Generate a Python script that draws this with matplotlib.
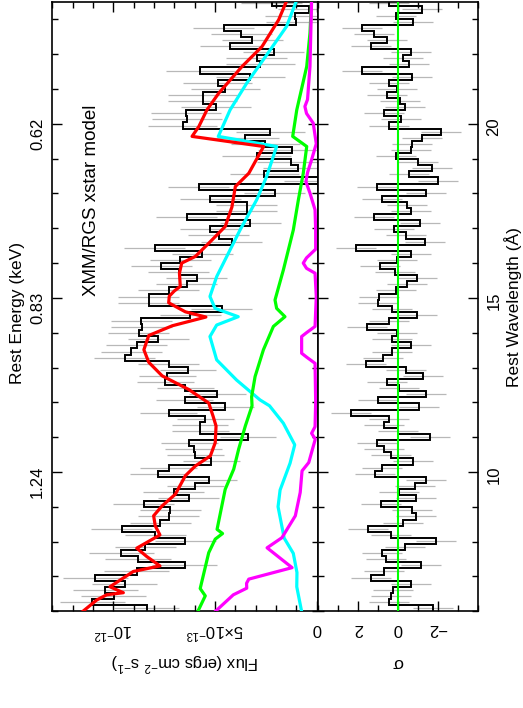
import numpy as np
import matplotlib
matplotlib.use("Agg")
import matplotlib.pyplot as plt
from matplotlib.ticker import MultipleLocator, FixedLocator

plt.rcParams['font.family'] = ['Liberation Sans', 'DejaVu Sans']
plt.rcParams['mathtext.fontset'] = 'custom'
plt.rcParams['mathtext.rm'] = 'Liberation Sans'
plt.rcParams['mathtext.it'] = 'Liberation Sans:italic'
plt.rcParams['mathtext.bf'] = 'Liberation Sans:bold'

# wavelength binning of the RGS spectrum (Angstrom)
wl_lo, wl_hi, n_bins = 6.0, 23.55, 100

# observed flux per bin, units of 1e-12 erg cm-2 s-1, from short to long wavelength
flux = [0.835, 1.105, 0.999, 1.040, 0.944, 1.089, 0.884, 0.649, 0.879, 0.961,
        0.843, 0.646, 0.794, 0.958, 0.769, 0.728, 0.720, 0.851, 0.630, 0.704,
        0.597, 0.531, 0.780, 0.728, 0.518, 0.597, 0.605, 0.627, 0.338, 0.573,
        0.574, 0.548, 0.728, 0.450,
        0.649, 0.490, 0.646, 0.744, 0.736, 0.633, 0.728, 0.944, 0.911, 0.884,
        0.780, 0.876, 0.860, 0.863, 0.622, 0.466, 0.826, 0.826, 0.728, 0.638,
        0.589, 0.679, 0.764, 0.671, 0.564, 0.797, 0.417, 0.482, 0.523, 0.326,
        0.638, 0.343, 0.343,
        0.523, 0.207, 0.580, -0.010, 0.258, 0.092, 0.125, 0.294, 0.121, 0.253,
        0.354, 0.228, 0.659, 0.638, 0.643, 0.495, 0.561, 0.561, 0.450, 0.486,
        0.327, 0.573, 0.277, 0.294, 0.212, 0.425, 0.318, 0.371, 0.457, 0.100,
        0.105, 0.039, 0.220]

# 1-sigma flux errors, one value per block of 10 bins
flux_err_blocks = [0.16, 0.15, 0.14, 0.14, 0.15, 0.15, 0.15, 0.17, 0.17, 0.15]

# residuals (sigma)
resid = [-1.75, 0.45, 0.37, 0.26, -0.66, 1.37, 0.70, -1.17, 0.58, 0.78,
         -0.33, -1.92, 0.37, 1.48, -0.25, -0.92, -0.72, 0.85, -0.90, -0.05,
         -0.84, -1.39, 1.15, 0.82, -0.75, 0.37, 0.72, 1.07, -1.58, 0.0,
         0.70, 0.43, 2.37, -1.05,
         0.99, -1.39, -0.05, 0.53, -1.25, -0.39, 1.62, 0.73, 0.32, -0.66,
         0.32, 0.03, 1.53, 0.43, -0.97, 0.28, 1.00, 0.95, 0.08, -0.47,
         -0.97, 0.15, 0.90, 0.03, -0.63, 2.12, -1.33, -0.39, 0.20, -1.09,
         1.18, -0.66, -0.47,
         0.78, -1.39, 1.03, -2.02, -0.55, -1.69, -1.02, 0.12, -0.63, -0.68,
         -1.19, -2.14, 0.45, -0.17, 0.70, -0.35, -0.09, 0.57, 0.03, 0.45,
         -0.72, 1.82, -0.55, -0.25, -0.66, 1.35, 0.57, 1.20, 1.78, -0.75,
         0.12, -1.19, 0.43]

# model curves: (wavelength, flux) samples
red_wl = [5.99, 6.32, 6.47, 6.53, 6.70, 7.14, 7.30, 7.57, 7.81, 8.00, 8.19, 8.45,
          8.74, 9.02, 9.36, 9.89, 10.17, 10.46, 10.84, 11.32, 11.59, 11.98, 12.37,
          12.76, 13.15, 13.51, 13.92, 14.20, 14.45, 14.60, 14.86, 15.05, 15.20,
          15.33, 15.71, 16.00, 16.19, 16.57, 17.05, 17.61, 18.20, 18.58, 19.35,
          19.64, 19.92, 20.40, 20.88, 21.65, 22.22, 22.99, 23.56]
red_f = [1.151, 1.082, 1.033, 0.951, 1.017, 0.902, 0.771, 0.836, 0.885, 0.828, 0.771,
         0.794, 0.802, 0.761, 0.695, 0.646, 0.597, 0.523, 0.499, 0.495, 0.509, 0.531,
         0.630, 0.760, 0.826, 0.850, 0.826, 0.710, 0.545, 0.646, 0.728, 0.725, 0.700,
         0.671, 0.675, 0.664, 0.597, 0.531, 0.450, 0.417, 0.400, 0.334, 0.261, 0.613,
         0.580, 0.540, 0.482, 0.367, 0.269, 0.187, 0.146]

cyan_wl = [5.99, 6.70, 7.11, 7.66, 8.10, 9.00, 9.48, 10.25, 10.78, 11.40, 11.90,
           12.07, 12.64, 13.22, 13.89, 14.22, 14.46, 14.70, 15.04, 15.61, 16.38,
           16.95, 17.82, 18.49, 19.35, 19.64, 20.40, 21.17, 21.98, 22.80, 23.56]
cyan_f = [0.074, 0.098, 0.097, 0.115, 0.160, 0.190, 0.180, 0.131, 0.108, 0.164, 0.232,
          0.279, 0.394, 0.492, 0.525, 0.492, 0.386, 0.500, 0.525, 0.492, 0.426,
          0.377, 0.295, 0.246, 0.197, 0.484, 0.426, 0.344, 0.246, 0.148, 0.098]

green_wl = [6.00, 6.44, 6.65, 7.68, 8.07, 8.23, 8.35, 9.50, 10.08, 10.65, 11.32,
            11.90, 12.16, 12.74, 13.51, 14.18, 14.46, 14.70, 14.94, 15.80, 16.95,
            17.82, 18.58, 19.35, 19.64, 20.40, 21.65, 22.61, 23.56]
green_f = [0.584, 0.548, 0.573, 0.531, 0.499, 0.463, 0.490, 0.450, 0.408, 0.384, 0.351,
           0.318, 0.320, 0.303, 0.262, 0.213, 0.156, 0.197, 0.205, 0.164, 0.115,
           0.090, 0.066, 0.049, 0.118, 0.098, 0.049, 0.033, 0.025]

mag_wl = [5.99, 6.47, 6.66, 6.80, 6.92, 7.25, 7.82, 8.11, 8.74, 9.41, 10.03, 10.27,
          10.94, 11.11, 11.30, 12.00, 13.12, 13.30, 13.41, 13.89, 14.00, 14.18, 15.04,
          15.71, 15.85, 16.00, 16.15, 16.40, 16.95, 17.53, 18.01, 18.34, 18.60,
          18.97, 19.43, 20.02, 20.30, 20.50, 20.70, 21.65, 23.56]
mag_f = [0.499, 0.410, 0.344, 0.345, 0.334, 0.121, 0.244, 0.171, 0.105, 0.081, 0.072,
         0.039, 0.007, 0.025, 0.008, 0.005, 0.008, 0.050, 0.074, 0.074, 0.050, 0.008,
         0.002, 0.008, 0.050, 0.066, 0.050, 0.005, 0.005, 0.008, 0.033, 0.053, 0.045,
         0.025, 0.002, 0.017, 0.050, 0.058, 0.045, 0.033, 0.025]

edges = np.linspace(wl_lo, wl_hi, n_bins + 1)
centers = 0.5 * (edges[:-1] + edges[1:])
flux_err = np.repeat(flux_err_blocks, 10)

fig = plt.figure(figsize=(5.23, 7.08), dpi=100)
ax = fig.add_axes([0.0994, 0.1363, 0.5086, 0.8613])
ax2 = fig.add_axes([0.6080, 0.1363, 0.3059, 0.8613])

# main panel (flux runs right-to-left, wavelength upward)
ax.errorbar(flux, centers, xerr=flux_err, fmt='none', ecolor='#b8b8b8', elinewidth=0.9, zorder=1)
ax.stairs(flux, edges, orientation='horizontal', baseline=None, color='black', lw=1.4, zorder=2)
ax.plot(cyan_f, cyan_wl, color='#00ffff', lw=2.3, zorder=3)
ax.plot(green_f, green_wl, color='#00ff00', lw=2.3, zorder=3)
ax.plot(mag_f, mag_wl, color='#ff00ff', lw=2.3, zorder=3)
ax.plot(red_f, red_wl, color='#ff0000', lw=2.3, zorder=4)

ax.set_xlim(1.302, -0.0064)
ax.set_ylim(5.99, 23.51)
ax.xaxis.set_major_locator(FixedLocator([0, 0.5, 1.0]))
ax.set_xticklabels(['0', r'5$\times\mathregular{10^{-13}}$', r'$\mathregular{10^{-12}}$'])
ax.xaxis.set_minor_locator(MultipleLocator(0.1))
ax.yaxis.set_major_locator(FixedLocator([10, 15, 20]))
ax.set_yticklabels(['1.24', '0.83', '0.62'])
ax.yaxis.set_minor_locator(MultipleLocator(1))
ax.tick_params(which='both', direction='in', top=True, bottom=True, left=True, right=True,
               labelsize=12, width=1)
ax.tick_params(which='major', length=7)
ax.tick_params(which='minor', length=4)
ax.tick_params(axis='x', labelrotation=180, pad=7)
ax.tick_params(axis='y', labelrotation=90, pad=5)
ax.set_xlabel(r'Flux (ergs cm$\mathregular{^{-2}}$ s$\mathregular{^{-1}}$)', rotation=180, fontsize=12)
ax.xaxis.set_label_coords(0.5, -0.083)
ax.xaxis.label.set_va('center')
ax.set_ylabel('Rest Energy (keV)', fontsize=12.5)
ax.yaxis.set_label_coords(-0.128, 0.49)
ax.yaxis.label.set_va('center')
ax.text(0.147, 0.675, 'XMM/RGS xstar model', rotation=90, transform=ax.transAxes,
        ha='center', va='center', fontsize=13.5)

# residual panel
ax2.errorbar(resid, centers, xerr=1.0, fmt='none', ecolor='#b8b8b8', elinewidth=0.9, zorder=1)
ax2.stairs(resid, edges, orientation='horizontal', baseline=None, color='black', lw=1.4, zorder=2)
ax2.axvline(0, color='#00ff00', lw=1.5, zorder=3)
ax2.set_xlim(4, -4)
ax2.set_ylim(5.99, 23.51)
ax2.xaxis.set_major_locator(FixedLocator([-2, 0, 2]))
ax2.set_xticklabels(['\u22122', '0', '2'])
ax2.xaxis.set_minor_locator(MultipleLocator(1))
ax2.yaxis.set_major_locator(FixedLocator([10, 15, 20]))
ax2.yaxis.set_minor_locator(MultipleLocator(1))
ax2.tick_params(which='both', direction='in', top=True, bottom=True, left=True, right=True,
                labelleft=False, labelright=True, labelsize=12, width=1)
ax2.tick_params(which='major', length=7)
ax2.tick_params(which='minor', length=4)
ax2.tick_params(axis='x', labelrotation=180, pad=7)
ax2.tick_params(axis='y', labelrotation=90, pad=6)
ax2.set_xlabel('\u03c3', rotation=180, fontsize=12.5)
ax2.xaxis.set_label_coords(0.5, -0.083)
ax2.xaxis.label.set_va('center')
ax2.yaxis.set_label_position('right')
ax2.set_ylabel('Rest Wavelength (\u00c5)', fontsize=12.5, rotation=90)
ax2.yaxis.set_label_coords(1.219, 0.5)
ax2.yaxis.label.set_va('center')

for a in (ax, ax2):
    for s in a.spines.values():
        s.set_linewidth(1.2)

fig.savefig('out.png', dpi=100)
